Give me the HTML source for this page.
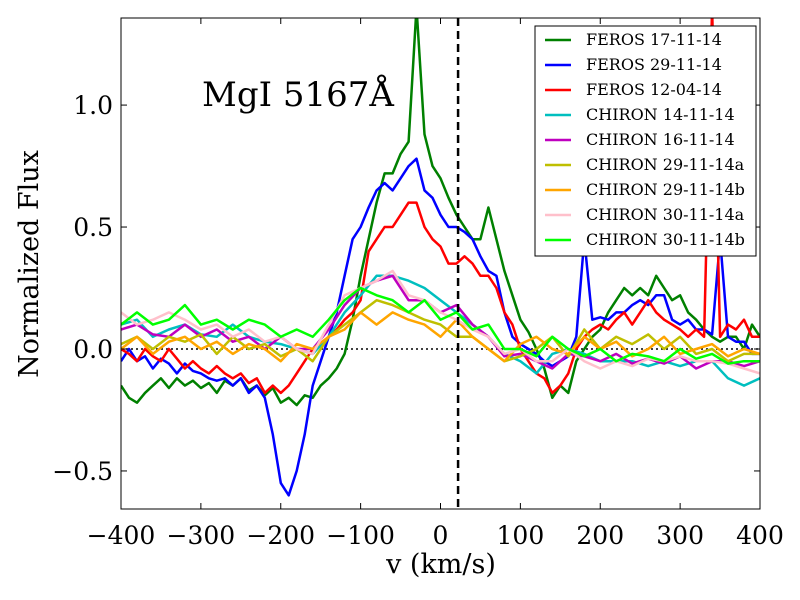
<!DOCTYPE html>
<html><head><meta charset="utf-8"><style>
body{margin:0;background:#fff}
svg{display:block;font-family:"DejaVu Serif","Liberation Serif",serif}
</style></head><body>
<svg id="chart" width="800" height="600" viewBox="0 0 800 600">
<defs><clipPath id="plotclip"><rect x="121" y="18" width="639" height="491"/></clipPath></defs>
<rect x="0" y="0" width="800" height="600" fill="#fff"/>
<g id="series" clip-path="url(#plotclip)"></g>
<g id="axes"></g>
<text x="202" y="106" font-size="34">MgI 5167Å</text>
<g id="legend"></g>
</svg>
<script>
const velFine = [];
for (let v = -400; v <= 400; v += 10) velFine.push(v);
const velCoarse = [];
for (let v = -400; v <= 400; v += 20) velCoarse.push(v);
const seriesNames = ["FEROS 17-11-14","FEROS 29-11-14","FEROS 12-04-14","CHIRON 14-11-14","CHIRON 16-11-14","CHIRON 29-11-14a","CHIRON 29-11-14b","CHIRON 30-11-14a","CHIRON 30-11-14b"];
const seriesColors = ["#008000","#0000ff","#ff0000","#00bfbf","#bf00bf","#bfbf00","#ffa500","#ffc0cb","#00ff00"];
const feros171114 = [-0.15,-0.2,-0.22,-0.18,-0.15,-0.12,-0.16,-0.12,-0.15,-0.13,
-0.16,-0.14,-0.18,-0.13,-0.15,-0.12,-0.17,-0.15,-0.19,-0.16,
-0.22,-0.2,-0.23,-0.19,-0.2,-0.15,-0.12,-0.08,-0.02,0.12,
0.3,0.45,0.6,0.72,0.72,0.8,0.85,1.4,0.88,0.75,
0.7,0.62,0.55,0.5,0.45,0.45,0.58,0.45,0.32,0.22,
0.12,0.07,0.0,-0.08,-0.2,-0.15,-0.18,-0.05,0.0,0.05,
0.08,0.15,0.2,0.25,0.22,0.25,0.22,0.3,0.25,0.2,
0.22,0.15,0.12,0.08,0.05,0.03,0.05,0.05,0.0,0.1,0.05];
const feros291114 = [-0.05,0.0,-0.05,-0.03,-0.08,-0.04,-0.06,-0.1,-0.06,-0.09,
-0.1,-0.12,-0.13,-0.12,-0.15,-0.12,-0.18,-0.15,-0.2,-0.35,
-0.55,-0.6,-0.5,-0.35,-0.15,-0.05,0.05,0.15,0.3,0.45,
0.5,0.58,0.65,0.68,0.65,0.7,0.75,0.78,0.65,0.62,
0.55,0.5,0.5,0.48,0.45,0.38,0.32,0.3,0.15,0.05,
0.02,0.0,-0.02,-0.05,-0.07,-0.05,-0.03,0.05,0.45,0.12,
0.13,0.12,0.15,0.15,0.18,0.2,0.18,0.22,0.22,0.12,
0.1,0.12,0.08,0.08,0.06,0.45,0.05,0.03,0.03,-0.02,-0.02];
const feros120414 = [0.0,-0.02,-0.05,0.0,-0.03,-0.05,0.0,-0.04,-0.08,-0.05,
-0.08,-0.1,-0.07,-0.1,-0.12,-0.1,-0.14,-0.12,-0.18,-0.15,
-0.18,-0.15,-0.1,-0.05,0.0,0.02,0.05,0.08,0.12,0.15,
0.2,0.4,0.45,0.5,0.5,0.55,0.6,0.6,0.5,0.45,
0.42,0.35,0.35,0.38,0.35,0.3,0.3,0.25,0.15,0.1,
0.0,-0.05,-0.1,-0.12,-0.18,-0.15,-0.1,0.0,0.05,0.08,
0.1,0.08,0.12,0.15,0.1,0.15,0.2,0.15,0.12,0.1,
0.08,0.05,0.08,0.05,1.4,0.05,0.1,0.08,0.12,0.05,0.05];
const chiron141114 = [0.1,0.12,0.05,0.08,0.1,0.06,0.05,0.1,0.05,0.03,0.02,0.0,-0.02,0.05,0.15,0.22,0.3,0.3,0.28,0.25,0.2,0.15,0.1,0.05,-0.02,-0.05,-0.1,-0.02,0.0,-0.02,-0.05,-0.05,-0.05,-0.07,-0.05,-0.07,-0.05,-0.05,-0.12,-0.15,-0.12];
const chiron161114 = [0.08,0.1,0.06,0.05,0.1,0.05,0.08,0.03,0.05,0.0,0.05,0.0,0.0,0.08,0.18,0.25,0.28,0.3,0.2,0.2,0.15,0.18,0.1,0.05,-0.03,-0.02,-0.05,-0.08,-0.02,-0.03,-0.05,-0.02,-0.06,-0.04,-0.06,-0.03,-0.08,-0.05,-0.05,-0.07,-0.05];
const chiron291114a = [0.02,0.05,0.0,0.05,0.03,0.06,-0.02,0.05,0.0,0.02,-0.03,0.0,-0.05,0.05,0.1,0.15,0.2,0.18,0.15,0.12,0.1,0.05,0.05,0.0,-0.05,-0.03,0.0,0.05,-0.03,0.08,0.0,0.05,0.02,0.06,0.0,0.05,-0.02,0.0,-0.05,-0.02,-0.02];
const chiron291114b = [0.0,0.05,-0.02,0.03,0.05,0.0,0.03,-0.02,0.02,0.0,-0.05,0.02,0.0,0.05,0.08,0.15,0.1,0.15,0.12,0.1,0.05,0.12,0.05,0.0,-0.05,0.02,0.05,0.0,-0.02,0.05,0.0,0.03,-0.03,0.0,0.05,-0.02,0.0,0.02,-0.03,0.0,-0.02];
const chiron301114a = [0.15,0.1,0.12,0.15,0.12,0.08,0.1,0.05,0.08,0.03,0.05,0.0,-0.02,0.1,0.22,0.25,0.28,0.32,0.22,0.2,0.15,0.12,0.08,0.05,-0.02,0.0,-0.05,-0.05,0.0,-0.05,-0.08,-0.05,-0.07,-0.04,-0.05,-0.03,-0.05,-0.05,-0.06,-0.08,-0.1];
const chiron301114b = [0.1,0.15,0.1,0.12,0.18,0.1,0.12,0.08,0.12,0.1,0.05,0.08,0.05,0.12,0.2,0.25,0.22,0.2,0.15,0.2,0.12,0.15,0.08,0.1,0.0,0.0,-0.03,0.05,0.0,-0.03,0.0,-0.05,-0.02,-0.03,-0.05,0.0,-0.04,-0.02,-0.06,-0.05,-0.05];
const xTicks = [-400,-300,-200,-100,0,100,200,300,400];
const yTicks = [-0.5,0.0,0.5,1.0];
const yTickLabels = ["−0.5","0.0","0.5","1.0"];
const restVelocity = 22;

const seriesValues = [feros171114,feros291114,feros120414,chiron141114,chiron161114,chiron291114a,chiron291114b,chiron301114a,chiron301114b];
const seriesVel = [velFine,velFine,velFine,velCoarse,velCoarse,velCoarse,velCoarse,velCoarse,velCoarse];

const L=121,R=760,T=18,B=509, X0=-400,X1=400, Y0=-0.656,Y1=1.357;
const xs=v=>L+(v-X0)/(X1-X0)*(R-L);
const ys=f=>B-(f-Y0)/(Y1-Y0)*(B-T);
const NS="http://www.w3.org/2000/svg";
function mk(tag,attrs,parent){const e=document.createElementNS(NS,tag);for(const k in attrs)e.setAttribute(k,attrs[k]);parent.appendChild(e);return e;}
const sg=document.getElementById('series'), ax=document.getElementById('axes'), lg=document.getElementById('legend');

const zl=mk('line',{x1:L,x2:R,y1:ys(0),y2:ys(0),stroke:'#000','stroke-width':1.5,'stroke-dasharray':'2,3'},sg);



seriesValues.forEach((vals,i)=>{
  const vel=seriesVel[i];
  const d=vals.map((f,j)=>(j?'L':'M')+xs(vel[j]).toFixed(1)+','+ys(f).toFixed(1)).join(' ');
  const p=mk('path',{d:d,fill:'none',stroke:seriesColors[i],'stroke-width':2.5,'stroke-linejoin':'round'},sg);
  
  
});

const rv=mk('line',{x1:xs(restVelocity),x2:xs(restVelocity),y1:T,y2:B,stroke:'#000','stroke-width':2.5,'stroke-dasharray':'8,5'},sg);



const frame=mk('rect',{x:L,y:T,width:R-L,height:B-T,fill:'none',stroke:'#000','stroke-width':1},ax);



xTicks.forEach(v=>{
  const x=xs(v);
  mk('line',{x1:x,x2:x,y1:B,y2:B-6,stroke:'#000'},ax);
  mk('line',{x1:x,x2:x,y1:T,y2:T+6,stroke:'#000'},ax);
  const t=mk('text',{x:x,y:B+35,'font-size':25,'text-anchor':'middle'},ax);
  t.textContent=(v<0?'−':'')+Math.abs(v);
  
  
});
yTicks.forEach((f,i)=>{
  const y=ys(f);
  mk('line',{x1:L,x2:L+6,y1:y,y2:y,stroke:'#000'},ax);
  mk('line',{x1:R,x2:R-6,y1:y,y2:y,stroke:'#000'},ax);
  const t=mk('text',{x:L-8,y:y+9,'font-size':25,'text-anchor':'end'},ax);
  t.textContent=yTickLabels[i];
  
  
});
const xt=mk('text',{x:441,y:573,'font-size':27,'text-anchor':'middle'},ax);
xt.textContent='v (km/s)';


const yt=mk('text',{x:0,y:0,'font-size':27,'text-anchor':'middle',transform:'translate(38,264) rotate(-90)'},ax);
yt.textContent='Normalized Flux';



const lb=mk('rect',{x:535,y:26,width:221,height:230,fill:'#fff',stroke:'#000','stroke-width':1},lg);


seriesNames.forEach((n,i)=>{
  const y=40+i*25;
  const g=mk('g',{},lg);
  
  
  mk('line',{x1:545,x2:571,y1:y,y2:y,stroke:seriesColors[i],'stroke-width':2.5},g);
  const t=mk('text',{x:586,y:y+5,'font-size':16},g);
  t.textContent=n;
});
</script>
</body></html>
